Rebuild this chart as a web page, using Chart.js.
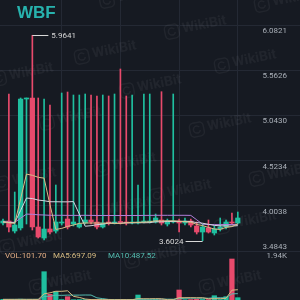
<!DOCTYPE html>
<html>
<head>
<meta charset="utf-8">
<script src="https://cdn.jsdelivr.net/npm/chart.js@4.4.1/dist/chart.umd.min.js"></script>
<style>
html, body { margin: 0; padding: 0; background: #161a22; overflow: hidden; }
#wrap { position: relative; width: 300px; height: 300px; }
</style>
</head>
<body>
<div id="wrap"><canvas id="kline" width="300" height="300"></canvas></div>
<script>
// candles, oldest -> newest
const opens  = [3.8063, 3.8293, 3.7143, 3.7488, 5.2316, 5.2431, 3.7603, 3.6339, 3.7373, 3.7143, 3.8063, 3.8523, 3.7948, 3.7603, 3.8063, 3.8408, 3.8178, 3.7603, 3.8178, 3.8063, 3.8235, 3.8178, 3.8063, 3.8063, 3.8178, 3.8178, 3.8178, 3.8408, 3.7948, 3.8178, 3.8293, 3.8063, 3.8293, 3.7718, 3.7028, 3.7488, 3.6913, 3.7373, 3.7603, 3.8178, 3.8063];
const highs  = [3.8523, 5.2890, 4.1626, 5.2431, 5.2431, 5.9641, 5.2431, 5.2316, 5.1626, 4.2431, 5.3005, 5.3120, 5.2775, 5.2775, 5.2890, 5.2775, 5.2661, 5.2775, 5.2661, 5.2890, 5.5764, 5.2661, 5.2775, 4.2431, 5.2890, 5.2890, 3.9097, 5.3155, 3.8523, 5.2890, 3.8523, 3.8638, 3.8523, 3.8178, 3.7948, 3.8408, 3.7718, 3.8638, 3.8408, 3.9212, 3.9327];
const lows   = [3.7833, 3.7028, 3.6913, 3.7258, 3.7948, 3.7258, 3.6339, 3.6109, 3.6798, 3.6913, 3.7833, 3.7373, 3.7718, 3.7488, 3.7948, 3.7948, 3.7373, 3.7488, 3.7833, 3.7948, 3.7948, 3.7833, 3.7948, 3.7948, 3.8063, 3.8063, 3.8063, 3.7833, 3.7718, 3.8063, 3.7028, 3.7833, 3.7603, 3.6798, 3.6024, 3.6913, 3.6684, 3.7143, 3.7373, 3.7948, 3.7948];
const closes = [3.8293, 3.7603, 3.7833, 5.2316, 5.2373, 3.7603, 3.6454, 3.7373, 3.7028, 3.8178, 3.8178, 3.7603, 3.8178, 3.7948, 3.8408, 3.8178, 3.7603, 3.8063, 3.8063, 3.8178, 3.8120, 3.8063, 3.8178, 3.8178, 3.8293, 3.8293, 3.8638, 3.8063, 3.8293, 3.8293, 3.8063, 3.8293, 3.7833, 3.7028, 3.7603, 3.7028, 3.7373, 3.7603, 3.8178, 3.8063, 3.8638];

// price moving averages
const ma5  = [3.8201, 3.8086, 3.8017, 4.0844, 4.3684, 4.3546, 4.3316, 4.3224, 4.0166, 3.7327, 3.7442, 3.7672, 3.7833, 3.8017, 3.8063, 3.8063, 3.8063, 3.8040, 3.8063, 3.8017, 3.8005, 3.8097, 3.8120, 3.8143, 3.8166, 3.8201, 3.8316, 3.8293, 3.8316, 3.8316, 3.8270, 3.8201, 3.8155, 3.7902, 3.7764, 3.7557, 3.7373, 3.7327, 3.7557, 3.7649, 3.7971];
const ma10 = [3.8189, 3.8132, 3.8097, 3.9511, 4.0931, 4.0873, 4.0701, 4.0620, 4.0505, 4.0505, 4.0494, 4.0494, 4.0528, 3.9092, 3.7695, 3.7752, 3.7867, 3.7936, 3.8040, 3.8040, 3.8034, 3.8080, 3.8080, 3.8103, 3.8092, 3.8103, 3.8206, 3.8206, 3.8229, 3.8241, 3.8235, 3.8258, 3.8224, 3.8109, 3.8040, 3.7913, 3.7787, 3.7741, 3.7729, 3.7706, 3.7764];
const ma30 = [3.8178, 3.8155, 3.8143, 3.8615, 3.9086, 3.9063, 3.9005, 3.8982, 3.8948, 3.8948, 3.8948, 3.8937, 3.8937, 3.8937, 3.8948, 3.8937, 3.8925, 3.8925, 3.8925, 3.8925, 3.8925, 3.8925, 3.8925, 3.8925, 3.8937, 3.8937, 3.8948, 3.8948, 3.8948, 3.8948, 3.8948, 3.8948, 3.8937, 3.8431, 3.7925, 3.7890, 3.7879, 3.7879, 3.7890, 3.7890, 3.7902];

// volume and its averages
const volumes = [30, 20, 25, 35, 20, 30, 25, 1248, 251, 366, 20, 146, 15, 20, 20, 15, 20, 15, 10, 15, 20, 15, 10, 220, 15, 10, 20, 15, 10, 15, 441, 15, 20, 30, 25, 20, 190, 20, 146, 1808, 101.7];
const volMa5  = [26, 27, 28, 30, 28, 28, 27, 272, 315, 384, 382, 406, 160, 115, 42, 18, 17, 17, 16, 15, 16, 15, 15, 56, 55, 54, 58, 55, 15, 14, 100, 100, 102, 98, 100, 55, 58, 58, 75, 433, 453];
const volMa10 = [28, 27, 27, 28, 27, 28, 28, 150, 170, 210, 205, 215, 215, 215, 220, 218, 95, 60, 25, 17, 16, 16, 15, 35, 35, 35, 36, 37, 36, 35, 57, 77, 77, 78, 80, 79, 97, 100, 100, 270, 280];

const priceTicks = [3.4843, 4.0038, 4.5234, 5.0430, 5.5626, 6.0821];
const volTop = 1940;
const volTopLabel = '1.94K';
const legendTexts = ['VOL:101.70', 'MA5:697.09', 'MA10:487.52'];

const UP = '#1fbf9f';
const DOWN = '#e84a6c';
const colors = closes.map((c, i) => c >= opens[i] ? UP : DOWN);
const idx = closes.map((c, i) => i);
const pts = arr => arr.map((v, i) => ({ x: i, y: v }));

const watermarks = [[100, 2], [255, 6], [165, 33], [75, 58], [215, 67], [-8, 80], [120, 92],
  [40, 124], [190, 131], [95, 170], [250, 180], [150, 197], [-5, 185], [90, 214], [215, 228],
  [0, 248], [125, 262], [30, 288], [200, 288]];

const decor = {
  id: 'decor',
  beforeDraw(chart) {
    const ctx = chart.ctx;
    ctx.save();
    ctx.fillStyle = '#161a22';
    ctx.fillRect(0, 0, chart.width, chart.height);
    ctx.restore();
  },
  beforeDatasetsDraw(chart) {
    const ctx = chart.ctx;
    ctx.save();
    ctx.strokeStyle = 'rgba(255,255,255,0.05)';
    ctx.fillStyle = 'rgba(255,255,255,0.05)';
    ctx.lineWidth = 1.5;
    ctx.font = 'bold 14px Roboto';
    ctx.textBaseline = 'middle';
    watermarks.forEach(([x, y]) => {
      ctx.save();
      ctx.translate(x, y);
      ctx.rotate(-0.2);
      ctx.beginPath();
      ctx.roundRect(0, -7, 14, 14, 4);
      ctx.stroke();
      ctx.beginPath();
      ctx.arc(7, 0, 3.5, 0.3, Math.PI * 1.8);
      ctx.stroke();
      ctx.fillText('WikiBit', 18, 0);
      ctx.restore();
    });
    ctx.restore();
  },
  afterDraw(chart) {
    const ctx = chart.ctx;
    const xs = chart.scales.x, ys = chart.scales.y, yv = chart.scales.yv;
    ctx.save();
    // logo
    ctx.fillStyle = '#27b2ad';
    ctx.font = 'bold 17px "Liberation Sans"';
    ctx.textBaseline = 'alphabetic';
    ctx.textAlign = 'left';
    ctx.fillText('WBF', 17, 18);

    // price axis labels
    ctx.font = '8px Roboto';
    ctx.fillStyle = '#aab0b8';
    ctx.textAlign = 'right';
    ctx.textBaseline = 'middle';
    priceTicks.forEach((v, k) => {
      const py = ys.getPixelForValue(v);
      ctx.fillText(v.toFixed(4), 287, k === 0 ? py - 4.5 : py + 6);
    });
    ctx.fillText(volTopLabel, 287, yv.getPixelForValue(volTop));

    // volume legend
    ctx.textAlign = 'left';
    const legColors = ['#e2ad84', '#d6bb82', '#54bcb0'];
    const legX = [5, 53, 108];
    legendTexts.forEach((t, k) => {
      ctx.fillStyle = legColors[k];
      ctx.fillText(t, legX[k], yv.getPixelForValue(volTop));
    });

    // highest / lowest markers
    const hi = highs.indexOf(Math.max(...highs));
    const lo = lows.indexOf(Math.min(...lows));
    ctx.strokeStyle = '#d8d8d8';
    ctx.fillStyle = '#d8d8d8';
    ctx.lineWidth = 1;
    const hx = xs.getPixelForValue(hi), hy = Math.round(ys.getPixelForValue(highs[hi])) + 0.5;
    ctx.beginPath(); ctx.moveTo(hx, hy); ctx.lineTo(hx + 16, hy); ctx.stroke();
    ctx.fillText(highs[hi].toFixed(4), hx + 19, hy);
    const lx = xs.getPixelForValue(lo), ly = Math.round(ys.getPixelForValue(lows[lo])) + 0.5;
    ctx.beginPath(); ctx.moveTo(lx, ly); ctx.lineTo(lx - 17, ly); ctx.stroke();
    ctx.textAlign = 'right';
    ctx.fillText(lows[lo].toFixed(4), lx - 19, ly);
    ctx.restore();
  }
};

const lineDs = (data, color, axis) => ({
  type: 'line', data: pts(data), yAxisID: axis, borderColor: color,
  borderWidth: 1, pointRadius: 0, tension: 0, order: 0
});

new Chart(document.getElementById('kline'), {
  data: {
    datasets: [
      { type: 'bar', data: pts(volumes), yAxisID: 'yv', backgroundColor: colors,
        barThickness: 4.6, grouped: false, order: 4 },
      lineDs(volMa5, '#d6bb82', 'yv'),
      lineDs(volMa10, '#54bcb0', 'yv'),
      { type: 'bar', data: idx.map(i => ({ x: i, y: [lows[i], highs[i]] })), yAxisID: 'y',
        backgroundColor: colors, barThickness: 1, grouped: false, order: 3 },
      { type: 'bar', data: idx.map(i => ({ x: i, y: [opens[i], closes[i]] })), yAxisID: 'y',
        backgroundColor: colors, barThickness: 4.6, minBarLength: 1, grouped: false, order: 2 },
      lineDs(ma5, '#d9bd86', 'y'),
      lineDs(ma10, '#d4d6e0', 'y'),
      lineDs(ma30, '#b07ed8', 'y')
    ]
  },
  options: {
    responsive: false,
    animation: false,
    devicePixelRatio: 1,
    events: [],
    layout: { padding: 0 },
    plugins: { legend: { display: false }, tooltip: { enabled: false } },
    scales: {
      x: {
        type: 'linear', min: -0.511, max: 50.596, offset: false,
        ticks: { display: false },
        grid: { color: '#242934', drawTicks: false, offset: false },
        border: { display: false },
        afterBuildTicks: s => { s.ticks = [10, 20, 30, 40].map(v => ({ value: v })); }
      },
      y: {
        position: 'right', min: 2.9213, max: 6.3695,
        ticks: { display: false },
        grid: { color: '#242934', drawTicks: false },
        border: { display: false },
        afterBuildTicks: s => { s.ticks = priceTicks.map(v => ({ value: v })); }
      },
      yv: {
        display: false, min: 0, max: volTop * 300 / 44
      }
    }
  },
  plugins: [decor]
});
</script>
</body>
</html>
